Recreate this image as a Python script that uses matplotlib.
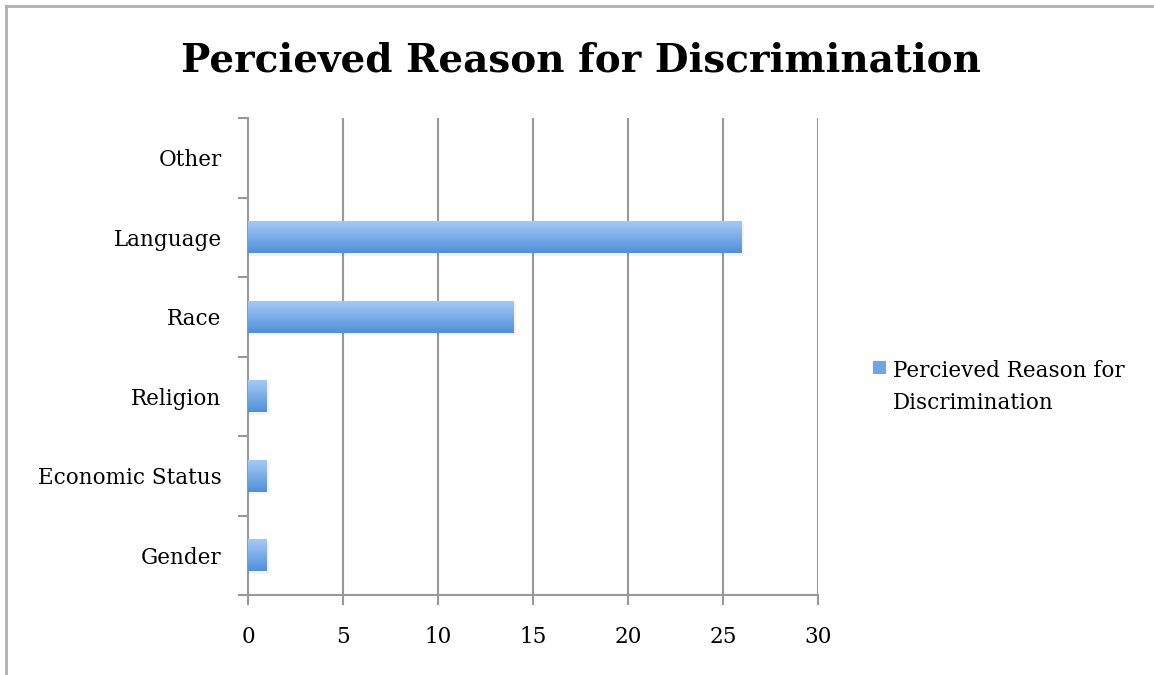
import numpy as np
import matplotlib
matplotlib.use('Agg')
import matplotlib.pyplot as plt
from matplotlib.lines import Line2D
from matplotlib.patches import Rectangle

# data (bottom to top)
categories = ['Gender', 'Economic Status', 'Religion', 'Race', 'Language', 'Other']
counts = [1, 1, 1, 14, 26, 0]
xticks = [0, 5, 10, 15, 20, 25, 30]
series_name = 'Percieved Reason for Discrimination'

plt.rcParams['font.family'] = ['DejaVu Serif']

fig = plt.figure(figsize=(11.54, 6.75), dpi=100)
ax = fig.add_axes([248/1154, 80/675, 570/1154, 477/675])

y = np.arange(len(categories))
bars = ax.barh(y, counts, height=0.4, color='none', edgecolor='none', zorder=3)

# vertical gradient for each bar
grad = np.linspace(0, 1, 64).reshape(-1, 1)
cmap = matplotlib.colors.LinearSegmentedColormap.from_list('g', ['#4f90d8', '#a6c9f6'])
for b in bars:
    if b.get_width() <= 0:
        continue
    x0, y0 = b.get_x(), b.get_y()
    w, h = b.get_width(), b.get_height()
    # soft shadow
    ax.barh(y0 + h/2 - 0.03, w + 0.1, height=h, left=x0, color='#000000', alpha=0.05, zorder=2)
    ax.imshow(grad, extent=[x0, x0 + w, y0, y0 + h], origin='lower', cmap=cmap,
              aspect='auto', zorder=3, interpolation='bicubic')

ax.set_xlim(0, 30)
ax.set_ylim(-0.5, len(categories) - 0.5)
ax.set_xticks(xticks)
ax.set_yticks(y)
ax.set_yticklabels(categories)
ax.set_yticks(np.arange(-0.5, len(categories), 1), minor=True)
ax.tick_params(axis='y', which='major', length=0, pad=19, labelsize=15.5)
ax.tick_params(axis='y', which='minor', length=7, width=1.5, color='#999999', direction='out')
ax.tick_params(axis='x', length=7, width=1.5, color='#999999', pad=15, labelsize=15.5)

ax.grid(axis='x', color='#999999', linewidth=1.5, zorder=1)
ax.set_axisbelow(True)
for s in ['top', 'right']:
    ax.spines[s].set_visible(False)
for s in ['left', 'bottom']:
    ax.spines[s].set_color('#999999')
    ax.spines[s].set_linewidth(1.5)

fig.text(581/1154, 1 - 60/675, series_name, ha='center', va='center',
         fontsize=28, fontweight='bold')

# legend: swatch next to first line of a two-line label
fig.add_artist(Rectangle((873/1154, 1 - 374/675), 13/1154, 13/675,
                         transform=fig.transFigure, facecolor='#6fa5e5', edgecolor='none'))
fig.text(893/1154, 1 - 360/675, 'Percieved Reason for\nDiscrimination', ha='left', va='top',
         fontsize=15.5, linespacing=1.6)

# frame lines at left and top
fig.add_artist(Line2D([6/1154, 6/1154], [0, 1 - 6/675], transform=fig.transFigure, color='#b0b0b0', lw=2))
fig.add_artist(Line2D([6/1154, 1], [1 - 6/675, 1 - 6/675], transform=fig.transFigure, color='#b0b0b0', lw=2))

fig.savefig('out.png', dpi=100)
